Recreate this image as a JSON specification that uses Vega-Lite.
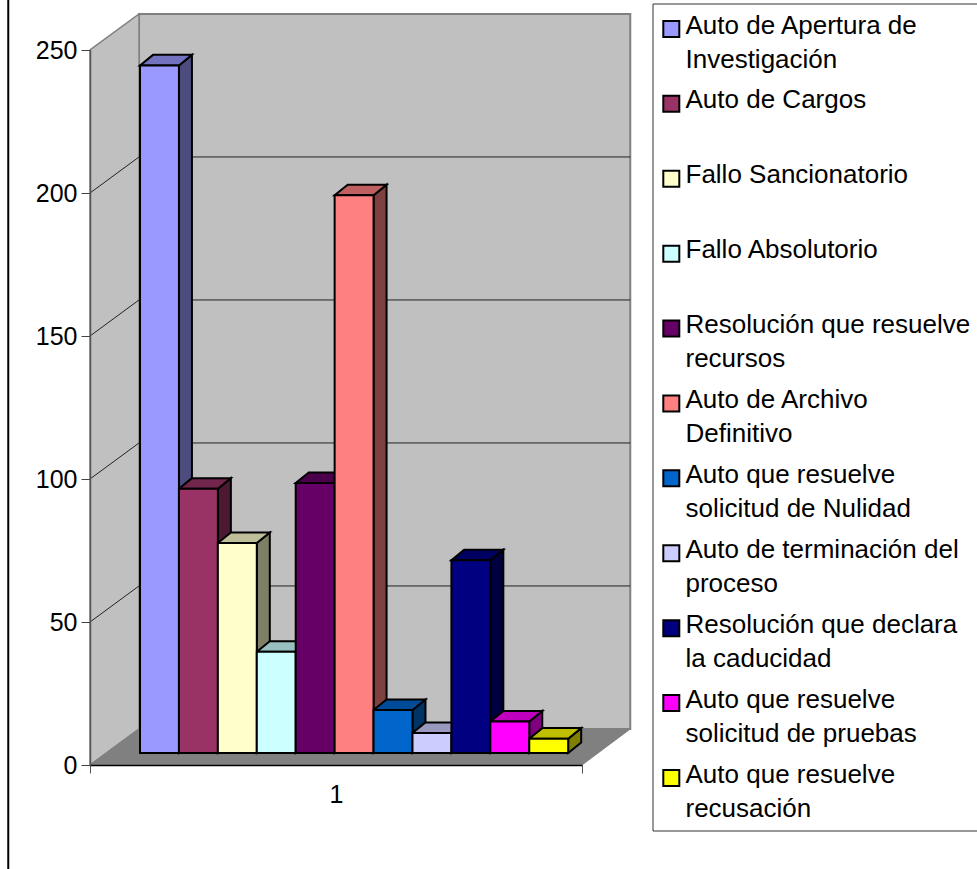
{
"$schema":"https://vega.github.io/schema/vega-lite/v6.json",
"width":492,"height":715,
"autosize":"none",
"padding":{"left":90,"top":50,"right":395,"bottom":104},
"background":"white",
"config":{"view":{"stroke":null},"font":"Liberation Sans"},
"datasets":{
"barras":[
{"serie":"Auto de Apertura de Investigación","valor":240.4,"orden":0},
{"serie":"Auto de Cargos","valor":92.4,"orden":1},
{"serie":"Fallo Sancionatorio","valor":73.4,"orden":2},
{"serie":"Fallo Absolutorio","valor":35.4,"orden":3},
{"serie":"Resolución que resuelve recursos","valor":94.4,"orden":4},
{"serie":"Auto de Archivo Definitivo","valor":195,"orden":5},
{"serie":"Auto que resuelve solicitud de Nulidad","valor":15,"orden":6},
{"serie":"Auto de terminación del proceso","valor":7,"orden":7},
{"serie":"Resolución que declara la caducidad","valor":67.4,"orden":8},
{"serie":"Auto que resuelve solicitud de pruebas","valor":11,"orden":9},
{"serie":"Auto que resuelve recusación","valor":5,"orden":10}
],
"prof":[{"d":0},{"d":1}],
"marcas":[{"v":50},{"v":100},{"v":150},{"v":200}]
},
"encoding":{
"x":{"field":"xa","type":"quantitative","stack":null,"title":null,"scale":{"domain":[0,12.64],"nice":false,"zero":false},
"axis":{"values":[0,6.32,12.64],"zindex":1,"grid":false,"title":null,"domainColor":"#000000","domainWidth":1.5,"tickColor":"#555555","tickSize":8,"tickOpacity":{"condition":{"test":"datum.value==6.32","value":0},"value":1},"labelExpr":"datum.value==6.32?'1':''","labelFontSize":25,"labelFont":"Liberation Sans","labelColor":"#000000","labelPadding":9,"labelAngle":0,"labelOverlap":false,"labelFlush":false}},
"y":{"field":"ya","type":"quantitative","stack":null,"title":null,"scale":{"domain":[0,250],"nice":false,"zero":false},
"axis":{"values":[0,50,100,150,200,250],"zindex":1,"grid":false,"title":null,"domainColor":"#555555","domainWidth":1.5,"tickColor":"#444444","tickSize":9,"labelFontSize":25,"labelFont":"Liberation Sans","labelColor":"#000000","labelPadding":4,"labelOverlap":false,"labelFlush":false}}
},
"layer":[
{"data":{"values":[{"pared":"fondo"}]},
"transform":[{"calculate":"1.26","as":"xa"},{"calculate":"13.88","as":"xb"},{"calculate":"12.6","as":"ya"},{"calculate":"262.6","as":"yb"}],
"mark":{"type":"rect","fill":"#c0c0c0","stroke":"#808080","strokeWidth":2},
"encoding":{"x2":{"field":"xb"},"y2":{"field":"yb"}}},
{"data":{"name":"prof"},
"transform":[{"calculate":"1.26*datum.d","as":"xa"},{"calculate":"12.6*datum.d","as":"ya"},{"calculate":"250+12.6*datum.d","as":"yb"}],
"mark":{"type":"area","fill":"#c0c0c0","stroke":"#808080","strokeWidth":1.5},
"encoding":{"y2":{"field":"yb"}}},
{"data":{"name":"prof"},
"transform":[{"calculate":"1.26*datum.d","as":"xa"},{"calculate":"12.64+1.24*datum.d","as":"xb"},{"calculate":"12.6*datum.d","as":"ya"}],
"mark":{"type":"area","orient":"horizontal","fill":"#808080","stroke":"#808080","strokeWidth":1},
"encoding":{"x2":{"field":"xb"}}},
{"data":{"name":"marcas"},
"transform":[{"calculate":"0","as":"xa"},{"calculate":"1.26","as":"xb"},{"calculate":"datum.v","as":"ya"},{"calculate":"datum.v+12.6","as":"yb"}],
"mark":{"type":"rule","stroke":"#222222","strokeWidth":1},
"encoding":{"x2":{"field":"xb"},"y2":{"field":"yb"}}},
{"data":{"name":"marcas"},
"transform":[{"calculate":"1.26","as":"xa"},{"calculate":"13.88","as":"xb"},{"calculate":"datum.v+12.6","as":"ya"}],
"mark":{"type":"rule","stroke":"#222222","strokeWidth":1},
"encoding":{"x2":{"field":"xb"}}},
{"data":{"values":[{"marco":"izquierda"}]},
"transform":[{"calculate":"-2.1","as":"xa"},{"calculate":"-37","as":"ya"},{"calculate":"268","as":"yb"}],
"mark":{"type":"rule","stroke":"#000000","strokeWidth":2},
"encoding":{"y2":{"field":"yb"}}},
{"data":{"name":"barras"},
"transform":[{"calculate":"[0,1]","as":"d"},{"flatten":["d"]},{"calculate":"2.285+datum.orden+0.334*datum.d","as":"xa"},{"calculate":"4.2+3.7*datum.d","as":"ya"},{"calculate":"4.2+datum.valor+3.7*datum.d","as":"yb"}],
"mark":{"type":"area"},
"encoding":{"y2":{"field":"yb"},"color":{"field":"serie","type":"nominal","scale":{"domain":["Auto de Apertura de Investigación","Auto de Cargos","Fallo Sancionatorio","Fallo Absolutorio","Resolución que resuelve recursos","Auto de Archivo Definitivo","Auto que resuelve solicitud de Nulidad","Auto de terminación del proceso","Resolución que declara la caducidad","Auto que resuelve solicitud de pruebas","Auto que resuelve recusación"],"range":["#9999ff","#993366","#ffffcc","#ccffff","#660066","#ff8080","#0066cc","#ccccff","#000080","#ff00ff","#ffff00"]}}}},
{"data":{"name":"barras"},
"transform":[{"calculate":"[0,1]","as":"d"},{"flatten":["d"]},{"calculate":"2.285+datum.orden+0.334*datum.d","as":"xa"},{"calculate":"4.2+3.7*datum.d","as":"ya"},{"calculate":"4.2+datum.valor+3.7*datum.d","as":"yb"}],
"mark":{"type":"area","fill":"#000000","fillOpacity":0.5,"stroke":"#000000","strokeWidth":2},
"encoding":{"y2":{"field":"yb"},"detail":{"field":"serie"}}},
{"data":{"name":"barras"},
"transform":[{"calculate":"[0,1]","as":"d"},{"flatten":["d"]},{"calculate":"1.285+datum.orden+0.334*datum.d","as":"xa"},{"calculate":"2.285+datum.orden+0.334*datum.d","as":"xb"},{"calculate":"4.2+datum.valor+3.7*datum.d","as":"ya"}],
"mark":{"type":"area","orient":"horizontal"},
"encoding":{"x2":{"field":"xb"},"color":{"field":"serie","type":"nominal","scale":{"domain":["Auto de Apertura de Investigación","Auto de Cargos","Fallo Sancionatorio","Fallo Absolutorio","Resolución que resuelve recursos","Auto de Archivo Definitivo","Auto que resuelve solicitud de Nulidad","Auto de terminación del proceso","Resolución que declara la caducidad","Auto que resuelve solicitud de pruebas","Auto que resuelve recusación"],"range":["#9999ff","#993366","#ffffcc","#ccffff","#660066","#ff8080","#0066cc","#ccccff","#000080","#ff00ff","#ffff00"]}}}},
{"data":{"name":"barras"},
"transform":[{"calculate":"[0,1]","as":"d"},{"flatten":["d"]},{"calculate":"1.285+datum.orden+0.334*datum.d","as":"xa"},{"calculate":"2.285+datum.orden+0.334*datum.d","as":"xb"},{"calculate":"4.2+datum.valor+3.7*datum.d","as":"ya"}],
"mark":{"type":"area","orient":"horizontal","fill":"#000000","fillOpacity":0.25,"stroke":"#000000","strokeWidth":2},
"encoding":{"x2":{"field":"xb"},"detail":{"field":"serie"}}},
{"data":{"name":"barras"},
"transform":[{"calculate":"1.285+datum.orden","as":"xa"},{"calculate":"2.285+datum.orden","as":"xb"},{"calculate":"4.2","as":"ya"},{"calculate":"4.2+datum.valor","as":"yb"}],
"mark":{"type":"rect","stroke":"#000000","strokeWidth":2},
"encoding":{"x2":{"field":"xb"},"y2":{"field":"yb"},"color":{"field":"serie","type":"nominal",
"scale":{"domain":["Auto de Apertura de Investigación","Auto de Cargos","Fallo Sancionatorio","Fallo Absolutorio","Resolución que resuelve recursos","Auto de Archivo Definitivo","Auto que resuelve solicitud de Nulidad","Auto de terminación del proceso","Resolución que declara la caducidad","Auto que resuelve solicitud de pruebas","Auto que resuelve recusación"],"range":["#9999ff","#993366","#ffffcc","#ccffff","#660066","#ff8080","#0066cc","#ccccff","#000080","#ff00ff","#ffff00"]},
"legend":{"orient":"none","legendX":562.5,"legendY":-46.5,"title":null,"padding":9,"strokeColor":"#333333","fillColor":"#ffffff","symbolType":"M-1.4,-0.57H0.6V1.43H-1.4Z","symbolSize":256,"symbolStrokeColor":"#000000","symbolStrokeWidth":2,"symbolOpacity":1,"labelFontSize":26,"labelFont":"Liberation Sans","labelColor":"#000000","labelLimit":500,"labelOffset":-2,"rowPadding":14.9,"columns":1,
"labelExpr":"({'Auto de Apertura de Investigación':['Auto de Apertura de','Investigación'],'Auto de Cargos':['Auto de Cargos',' '],'Fallo Sancionatorio':['Fallo Sancionatorio',' '],'Fallo Absolutorio':['Fallo Absolutorio',' '],'Resolución que resuelve recursos':['Resolución que resuelve','recursos'],'Auto de Archivo Definitivo':['Auto de Archivo','Definitivo'],'Auto que resuelve solicitud de Nulidad':['Auto que resuelve','solicitud de Nulidad'],'Auto de terminación del proceso':['Auto de terminación del','proceso'],'Resolución que declara la caducidad':['Resolución que declara','la caducidad'],'Auto que resuelve solicitud de pruebas':['Auto que resuelve','solicitud de pruebas'],'Auto que resuelve recusación':['Auto que resuelve','recusación']})[datum.label]",
"encode":{"labels":{"update":{"lineHeight":{"value":34}}}}}}}}
]
}
